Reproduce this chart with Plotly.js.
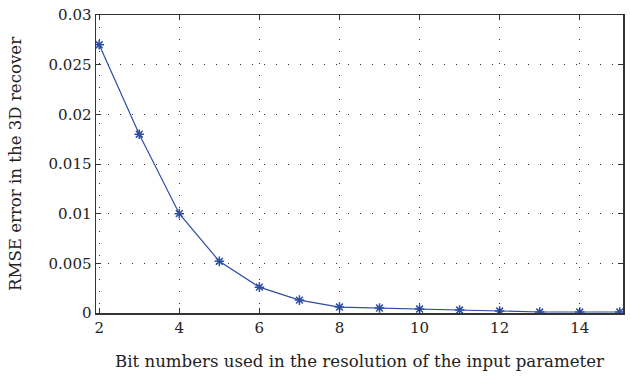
<!DOCTYPE html>
<html><head><meta charset="utf-8">
<script src="https://cdn.plot.ly/plotly-3.0.1.min.js"></script>
<style>html,body{margin:0;padding:0;background:#fff}#c{width:630px;height:377px}</style>
</head><body><div id="c"></div>
<script>
const bits = [2,3,4,5,6,7,8,9,10,11,12,13,14,15];
const rmse = [0.027,0.018,0.010,0.0052,0.0026,0.0013,0.0006,0.0005,0.0004,0.0003,0.0002,0.0001,0.0001,0.0001];
const xTicks = [2,4,6,8,10,12,14];
const yTicks = [0,0.005,0.01,0.015,0.02,0.025,0.03];
const yTickText = ['0','0.005','0.01','0.015','0.02','0.025','0.03'];
const tickFont = {family:'DejaVu Serif, serif', size:15, color:'#222'};
const titleFont = {family:'DejaVu Serif, serif', size:16.6, color:'#222'};
Plotly.newPlot('c',[{
  x:bits, y:rmse, mode:'lines+markers', type:'scatter',
  line:{color:'#2c4ea3', width:1.2},
  marker:{symbol:'asterisk-open', size:8, color:'#2c4ea3', line:{color:'#2c4ea3', width:1.5}}
}],{
  width:630, height:377,
  margin:{l:96, r:7, t:15, b:64},
  paper_bgcolor:'#fff', plot_bgcolor:'#fff',
  showlegend:false, font:tickFont,
  xaxis:{range:[1.92,15.08], tickvals:xTicks, ticks:'inside', ticklen:5, tickcolor:'#333',
    showline:true, mirror:'ticks', linecolor:'#333', linewidth:1.5,
    showgrid:true, gridcolor:'#333', griddash:'1px,11px', gridwidth:1, zeroline:false,
    tickfont:tickFont, title:{text:'Bit numbers used in the resolution of the input parameter', font:titleFont, standoff:20}},
  yaxis:{range:[0,0.03], tickvals:yTicks, ticktext:yTickText, ticks:'inside', ticklen:5, tickcolor:'#333',
    showline:true, mirror:'ticks', linecolor:'#333', linewidth:1.5,
    showgrid:true, gridcolor:'#333', griddash:'1px,11px', gridwidth:1, zeroline:false,
    tickfont:tickFont, title:{text:'RMSE error in the 3D recover', font:titleFont, standoff:22}}
},{staticPlot:true});
</script></body></html>
